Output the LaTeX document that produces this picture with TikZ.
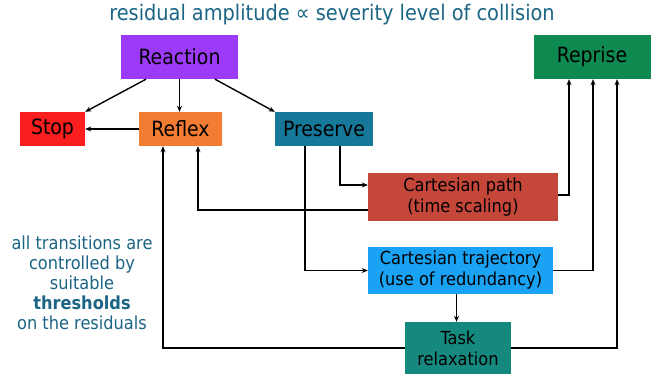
\documentclass[tikz,border=0pt]{standalone}
\usepackage{fontspec}
\setmainfont{DejaVu Sans Condensed}
\usetikzlibrary{arrows.meta}
\definecolor{titleblue}{HTML}{1C6585}
\definecolor{cReaction}{HTML}{9B3BF7}
\definecolor{cReprise}{HTML}{0E8A50}
\definecolor{cStop}{HTML}{FA1E1E}
\definecolor{cReflex}{HTML}{F27D32}
\definecolor{cPreserve}{HTML}{17799A}
\definecolor{cPath}{HTML}{C4473A}
\definecolor{cTraj}{HTML}{1AA2F5}
\definecolor{cTask}{HTML}{16897F}
\tikzset{
  box/.style={draw=none, inner sep=0pt, align=center, font=\fontsize{21}{23}\selectfont, text=black},
  sbox/.style={box, font=\fontsize{18}{21}\selectfont},
  arr/.style={-{Stealth[length=6pt,width=5pt]}, line width=1.4pt, black}
}
\begin{document}
\begin{tikzpicture}[x=1pt,y=-1pt]
\useasboundingbox[fill=white] (0,0) rectangle (662,375);
\node[font=\fontsize{21.5}{23}\selectfont, text=titleblue] (title) at (332,15) {residual amplitude ∝ severity level of collision};
\node[box, fill=cReaction, minimum width=117pt, minimum height=44pt] (reaction) at (179.5,57) {Reaction};
\node[box, fill=cReprise, minimum width=117pt, minimum height=44pt] (reprise) at (592,57) {Reprise};
\node[box, fill=cStop, minimum width=65pt, minimum height=34pt] (stop) at (52.5,129) {Stop};
\node[box, fill=cReflex, minimum width=83pt, minimum height=34pt] (reflex) at (180.5,129) {Reflex};
\node[box, fill=cPreserve, minimum width=98pt, minimum height=34pt] (preserve) at (324,129) {Preserve};
\node[sbox, fill=cPath, minimum width=190pt, minimum height=48pt] (cpath) at (463,197) {Cartesian path\\(time scaling)};
\node[sbox, fill=cTraj, minimum width=185pt, minimum height=47pt] (ctraj) at (460.5,270.5) {Cartesian trajectory\\(use of redundancy)};
\node[sbox, fill=cTask, minimum width=106pt, minimum height=52pt] (task) at (458,348) {Task\\relaxation};
\node[align=center, text=titleblue, font=\fontsize{18}{20}\selectfont] (note) at (82,283) {all transitions are\\controlled by\\suitable\\\textbf{thresholds}\\on the residuals};
% connectors
\draw[arr] ([xshift=-33.5pt]reaction.south) -- (stop.north east);
\draw[arr] (reaction.south) -- (reaction.south |- reflex.north);
\draw[arr] ([xshift=35.5pt]reaction.south) -- (preserve.north west);
\draw[arr] (reflex.west) -- (stop.east);
\draw[arr] ([xshift=16pt]preserve.south) |- ([yshift=12pt]cpath.west);
\draw[arr] ([xshift=-19pt]preserve.south) |- (ctraj.west);
\draw[arr] ([yshift=2pt]cpath.east) -| ([xshift=-23pt]reprise.south);
\draw[arr] ([yshift=-13pt]cpath.west) -| ([xshift=17.5pt]reflex.south);
\draw[arr] (ctraj.east) -| ([xshift=1pt]reprise.south);
\draw[arr] ([xshift=-4pt]ctraj.south) -- ([xshift=-4pt]ctraj.south |- task.north);
\draw[arr] (task.west) -| ([xshift=-17.5pt]reflex.south);
\draw[arr] (task.east) -| ([xshift=25pt]reprise.south);
\end{tikzpicture}
\end{document}
